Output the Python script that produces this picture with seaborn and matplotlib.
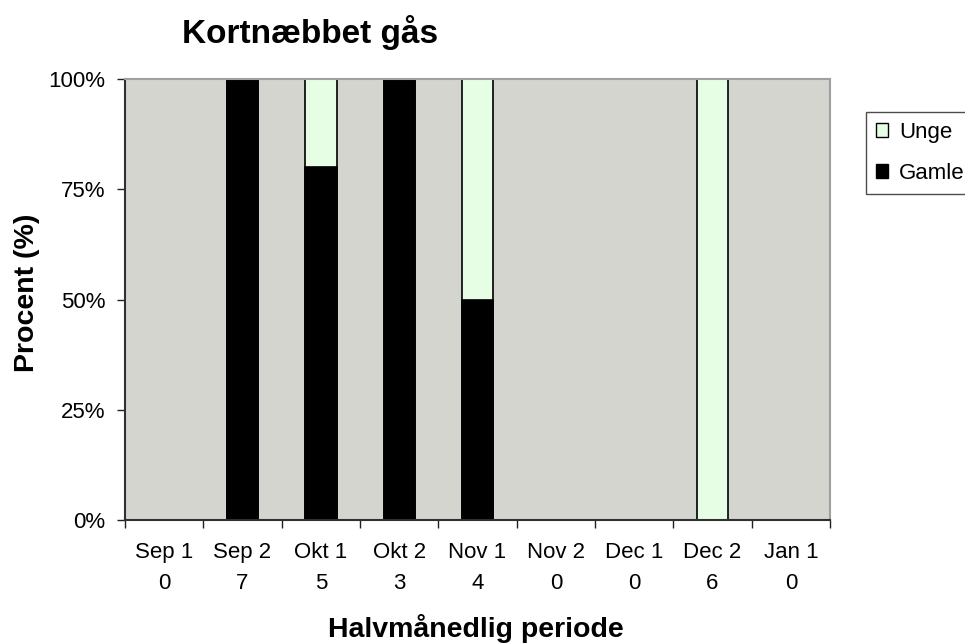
import matplotlib
matplotlib.use("Agg")
import matplotlib.pyplot as plt
import seaborn as sns
import pandas as pd
from matplotlib.patches import Patch
from matplotlib.ticker import FixedLocator, PercentFormatter

periods = ["Sep 1", "Sep 2", "Okt 1", "Okt 2", "Nov 1", "Nov 2", "Dec 1", "Dec 2", "Jan 1"]
counts = [0, 7, 5, 3, 4, 0, 0, 6, 0]
gamle = [0, 100, 80, 100, 50, 0, 0, 0, 0]
unge = [0, 0, 20, 0, 50, 0, 0, 100, 0]

title = "Kortnæbbet gås"
xlabel = "Halvmånedlig periode"
ylabel = "Procent (%)"

plt.rcParams['font.family'] = ['Liberation Sans', 'DejaVu Sans']

labels = [f"{p}\n{c}" for p, c in zip(periods, counts)]
df = pd.DataFrame({"label": labels, "gamle": gamle, "unge": unge})
df["total"] = df["gamle"] + df["unge"]

fig = plt.figure(figsize=(9.65, 6.43), dpi=100)
ax = fig.add_axes([125/965, 1-520/643, (830-125)/965, (520-79)/643])

bg = "#D4D5CF"
green = "#E6FFE4"
ax.set_facecolor(bg)

sns.barplot(data=df, x="label", y="total", color=green, edgecolor="black",
            linewidth=1.2, width=0.4, saturation=1, ax=ax)
sns.barplot(data=df, x="label", y="gamle", color="black", edgecolor="black",
            linewidth=1.2, width=0.4, saturation=1, ax=ax)

ax.set_xlim(-0.5, len(periods) - 0.5)
ax.set_ylim(0, 100)
ax.yaxis.set_major_locator(FixedLocator([0, 25, 50, 75, 100]))
ax.yaxis.set_major_formatter(PercentFormatter(100, decimals=0))

ax.xaxis.set_minor_locator(FixedLocator([i - 0.5 for i in range(len(periods) + 1)]))
ax.tick_params(axis="x", which="major", length=0, pad=16, labelsize=16)
ax.tick_params(axis="x", which="minor", length=6, width=1, color="#202020", direction="out")
ax.tick_params(axis="y", which="major", length=6, width=1, color="#202020", direction="out",
               labelsize=16, pad=8)
for t in ax.get_xticklabels():
    t.set_linespacing(1.6)

for s in ["top", "right"]:
    ax.spines[s].set_color("#A0A0A0")
    ax.spines[s].set_linewidth(1.5)
for s in ["left", "bottom"]:
    ax.spines[s].set_color("#303030")
    ax.spines[s].set_linewidth(1.5)

ax.set_xlabel("")
ax.set_ylabel("")
fig.text(476/965, 1-637/643, xlabel, ha="center", va="baseline", fontsize=20.5, fontweight="bold")
fig.text(27/965, 1-293/643, ylabel, ha="center", va="center", rotation=90, fontsize=20.5, fontweight="bold")
fig.text(310/965, 1-43/643, title, ha="center", va="baseline", fontsize=24, fontweight="bold")

handles = [Patch(facecolor=green, edgecolor="black", label="Unge"),
           Patch(facecolor="black", edgecolor="black", label="Gamle")]
leg = fig.legend(handles=handles, loc="upper left", bbox_to_anchor=(866/965, 1-112/643),
                 fontsize=16, frameon=True, fancybox=False, edgecolor="#202020",
                 handlelength=0.55, handleheight=0.55, handletextpad=0.5,
                 borderpad=0.45, labelspacing=0.9, borderaxespad=0)
leg.get_frame().set_linewidth(1.0)

fig.savefig("out.png", dpi=100)
